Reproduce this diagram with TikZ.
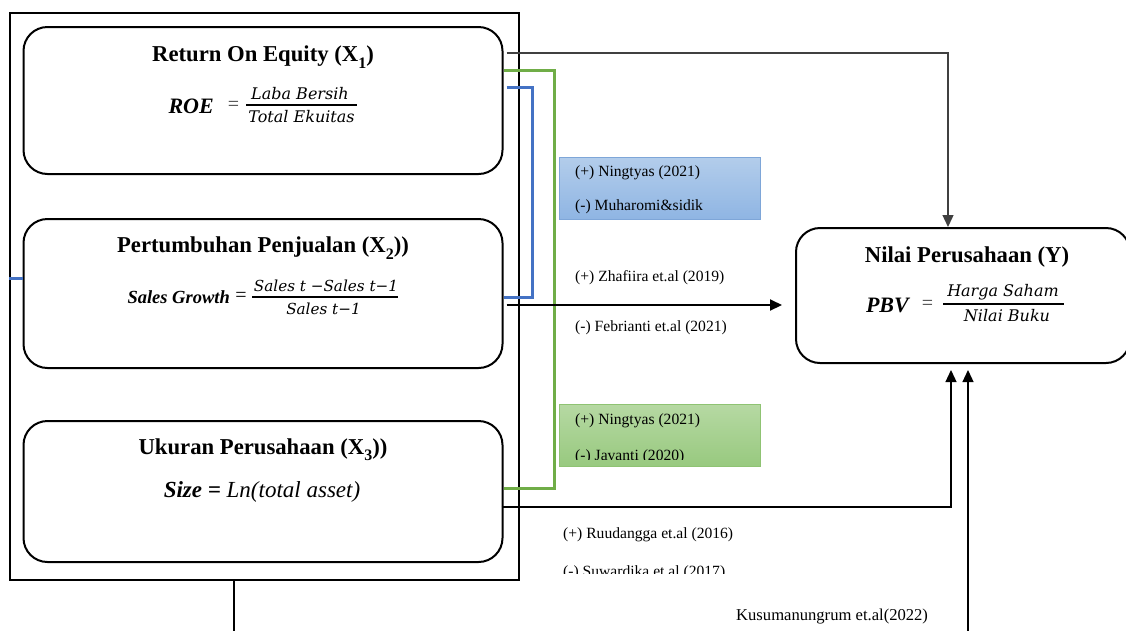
\documentclass[tikz,border=0pt]{standalone}
\usepackage{fontspec}
\setmainfont{Liberation Serif}
\newfontfamily\cam{DejaVu Serif}
\usetikzlibrary{arrows.meta,calc}
\definecolor{lblue}{HTML}{4472C4}
\definecolor{lgreen}{HTML}{70AD47}
\definecolor{bbtop}{HTML}{B3CDEB}
\definecolor{bbbot}{HTML}{8FB5E3}
\definecolor{bbdraw}{HTML}{7EA6D8}
\definecolor{gbtop}{HTML}{B6D9A3}
\definecolor{gbbot}{HTML}{98C97F}
\definecolor{gbdraw}{HTML}{8FC373}
\newcommand{\xsub}[1]{X\raisebox{-0.28em}{\fontsize{16}{16}\selectfont #1}}
\begin{document}
\begin{tikzpicture}[x=1pt,y=-1pt,
  vbox/.style={draw,line width=2pt,rounded corners=24pt,inner sep=0pt},
  ttl/.style={font=\fontsize{22.7}{27}\selectfont\bfseries,inner sep=0pt},
  lbl/.style={font=\fontsize{15.6}{18}\selectfont,inner sep=0pt,anchor=west},
  fr/.style={font=\fontsize{16}{19}\selectfont\cam\itshape,inner sep=0pt},
  lhs/.style={font=\fontsize{22}{26}\selectfont\bfseries\itshape,anchor=east,inner sep=0pt},
  eqs/.style={font=\fontsize{20}{24}\selectfont,text=black!75,inner sep=0pt},
  bar/.style={line width=1.5pt},
  conn/.style={line width=1.3pt},
  tip/.style={-{Triangle[length=12pt,width=11pt]}},
  refbox/.style={minimum width=201pt,minimum height=62pt,inner sep=0pt,line width=1pt},
]
\useasboundingbox (0,0) rectangle (1126,630);
% outer frame and variable boxes
\node[draw,line width=2pt,minimum width=509pt,minimum height=567pt,inner sep=0pt] (outer) at (264.5,296.5) {};
\node[vbox,minimum width=479pt,minimum height=147pt] (roe) at (263,100.5) {};
\node[vbox,minimum width=479pt,minimum height=149pt] (growth) at (263,293.5) {};
\node[vbox,minimum width=479pt,minimum height=141pt] (size) at (263,491.5) {};
\node[vbox,minimum width=334pt,minimum height=135pt] (Y) at (963,295.5) {};

% ROE
\node[ttl] (roeT) at (263,57) {Return On Equity (\xsub{1})};
\node[lhs] (roeL) at (214,106) {ROE};
\node[eqs] (roeEq) at (233.5,106) {=};
\node[fr] (roeN) at (300,94) {Laba Bersih};
\node[fr] (roeD) at (301.5,117) {Total Ekuitas};
\draw[bar] (246,105) -- (357,105);

% Growth
\node[ttl] (grT) at (263,248) {Pertumbuhan Penjualan (\xsub{2}))};
\node[lhs,font=\fontsize{18.5}{22}\selectfont\bfseries\itshape] (grL) at (230,297) {Sales Growth};
\node[eqs,text=black] (grEq) at (241,297) {=};
\node[fr,font=\fontsize{15.2}{18}\selectfont\cam\itshape] (grN) at (326,286) {Sales t −Sales t−1};
\node[fr,font=\fontsize{15.2}{18}\selectfont\cam\itshape] (grD) at (323.5,309) {Sales t−1};
\draw[bar] (252,297) -- (398,297);

% Size
\node[ttl] (szT) at (263,450) {Ukuran Perusahaan (\xsub{3}))};
\node[font=\fontsize{23}{27}\selectfont\itshape,inner sep=0pt] (szF) at (262,492) {\textbf{Size =} Ln(total asset)};

% Y
\node[ttl] (yT) at (967,257) {Nilai Perusahaan (Y)};
\node[lhs] (yL) at (909,305) {PBV};
\node[eqs] (yEq) at (927.5,305) {=};
\node[fr] (yN) at (1003,292) {Harga Saham};
\node[fr] (yD) at (1007,316) {Nilai Buku};
\draw[bar] (943,304) -- (1064,304);

% reference boxes
\node[refbox,draw=bbdraw,top color=bbtop,bottom color=bbbot] (bbox) at (659.5,188) {};
\node[lbl] (b1) at (575,173) {(+) Ningtyas (2021)};
\node[lbl] (b2) at (575,207) {(-) Muharomi\&sidik};
\node[refbox,draw=gbdraw,top color=gbtop,bottom color=gbbot] (gbox) at (659.5,435) {};
\node[lbl] (g1) at (575,421) {(+) Ningtyas (2021)};
\begin{scope}
\clip (559,404) rectangle (760,459);
\node[lbl] (g2) at (575,457) {(-) Javanti (2020)};
\end{scope}

% labels
\node[lbl] (l1) at (575,278) {(+) Zhafiira et.al (2019)};
\node[lbl] (l2) at (575,328) {(-) Febrianti et.al (2021)};
\node[lbl] (l3) at (563,535) {(+) Ruudangga et.al (2016)};
\begin{scope}
\clip (540,555) rectangle (800,573);
\node[lbl] (l4) at (563,573) {(-) Suwardika et.al (2017)};
\end{scope}
\node[lbl,font=\fontsize{16.6}{19}\selectfont] (l5) at (736,617) {Kusumanungrum et.al(2022)};

% connectors
\draw[conn,draw=black!75,tip] ($(roe.east)+(3,-47.5)$) -| ($(Y.north)+(-15,0)$);
\draw[line width=3pt,draw=lgreen] ($(roe.east)+(0,-30.5)$) -| ($(roe.east)+(51,100)$) |- ($(size.east)+(0,-3.5)$);
\draw[line width=3pt,draw=lblue] ($(roe.east)+(3,-13)$) -| ($(roe.east)+(29,100)$) |- ($(growth.east)+(0,3.5)$);
\draw[line width=3pt,draw=lblue] ($(outer.west)+(0,-18.5)$) -- ($(growth.west)+(0,-15.5)$);
\draw[line width=2pt,tip] ($(growth.east)+(3,11.5)$) -- ($(Y.west)+(-13,9.5)$);
\draw[conn,tip] ($(size.east)+(-2,15.5)$) -| ($(Y.south)+(-12,6)$);
\coordinate (b1) at (234,632);
\coordinate (b2) at (968,632);
\draw[conn] ($(outer.south)+(-30.5,0)$) -- (b1);
\draw[conn,tip] (b2) -- ($(Y.south)+(5,6)$);
\end{tikzpicture}
\end{document}
